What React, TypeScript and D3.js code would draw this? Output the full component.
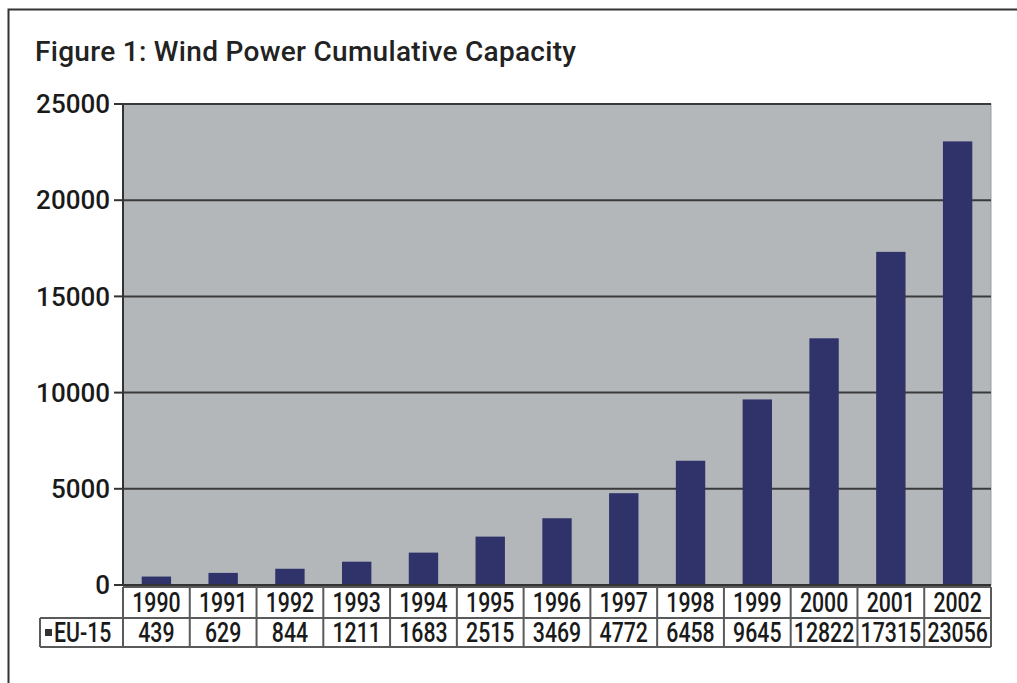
import React from "react";
import * as d3 from "d3";

const WIDTH = 1017;
const HEIGHT = 683;
const MARGIN = { top: 104, right: 26, bottom: 98, left: 123 };

const years = ["1990", "1991", "1992", "1993", "1994", "1995", "1996", "1997", "1998", "1999", "2000", "2001", "2002"];
const capacity = [439, 629, 844, 1211, 1683, 2515, 3469, 4772, 6458, 9645, 12822, 17315, 23056];
const yTicks = [0, 5000, 10000, 15000, 20000, 25000];
const seriesName = "EU-15";
const title = "Figure 1: Wind Power Cumulative Capacity";

const ROW_H = 30;
const FONT = "Roboto, 'DejaVu Sans', sans-serif";
const SQUEEZE = 0.76;

// narrow text by squeezing horizontally, keeps the tall condensed look of the original
const NarrowText = ({ x, y, anchor, children }: { x: number; y: number; anchor: string; children: React.ReactNode }) => (
  <text
    transform={`translate(${x},${y}) scale(${SQUEEZE},1)`}
    textAnchor={anchor}
    fontFamily={FONT}
    fontWeight={500}
    fontSize={28}
    fill="#1a1a1a"
  >
    {children}
  </text>
);

export default function App() {
  const boundsWidth = WIDTH - MARGIN.left - MARGIN.right;
  const boundsHeight = HEIGHT - MARGIN.top - MARGIN.bottom;

  const xScale = d3.scaleBand<string>().domain(years).range([0, boundsWidth]).paddingInner(0).paddingOuter(0);
  const yScale = d3.scaleLinear().domain([0, 25000]).range([boundsHeight, 0]);
  const barW = xScale.bandwidth() * 0.44;

  const row1Top = boundsHeight + 2;
  const row2Top = row1Top + ROW_H + 1;
  const row2Bottom = row2Top + ROW_H - 1;

  return (
    <svg width={WIDTH} height={HEIGHT} style={{ position: "absolute", left: 0, top: 0 }}>
      <rect x={0} y={0} width={WIDTH} height={HEIGHT} fill="#ffffff" />
      {/* frame */}
      <path d={`M8.5,${HEIGHT} V9.5 H${WIDTH}`} fill="none" stroke="#333" strokeWidth={2} />
      <text
        x={35}
        y={61}
        fontFamily={FONT}
        fontWeight={500}
        fontSize={28}
        letterSpacing={0.3}
        fill="#222"
      >
        {title}
      </text>
      <g transform={`translate(${MARGIN.left},${MARGIN.top})`}>
        <rect x={0} y={0} width={boundsWidth} height={boundsHeight} fill="#b4b7ba" stroke="#9a9da0" strokeWidth={1} />
        {yTicks.map((t) => (
          <g key={t}>
            {t > 0 && (
              <line x1={0} x2={boundsWidth} y1={yScale(t)} y2={yScale(t)} stroke="#3a3a3a" strokeWidth={2} />
            )}
            <line x1={-9} x2={0} y1={yScale(t)} y2={yScale(t)} stroke="#333" strokeWidth={2} />
            <text
              x={-13}
              y={yScale(t)}
              dy="0.35em"
              textAnchor="end"
              fontFamily={FONT}
              fontWeight={500}
              fontSize={26}
              fill="#1a1a1a"
            >
              {t}
            </text>
          </g>
        ))}
        {years.map((yr, i) => (
          <rect
            key={yr}
            x={(xScale(yr) as number) + (xScale.bandwidth() - barW) / 2}
            y={yScale(capacity[i])}
            width={barW}
            height={boundsHeight - yScale(capacity[i])}
            fill="#30336a"
          />
        ))}
        <line x1={0} x2={0} y1={0} y2={boundsHeight} stroke="#333" strokeWidth={2} />
        <line x1={0} x2={boundsWidth} y1={boundsHeight} y2={boundsHeight} stroke="#333" strokeWidth={2} />

        {/* data table */}
        <rect x={0} y={row1Top} width={boundsWidth} height={row2Bottom - row1Top} fill="#fff" />
        <rect x={-83} y={row2Top} width={83} height={row2Bottom - row2Top} fill="#fff" />
        <g stroke="#5a5a5a" strokeWidth={2}>
          <line x1={0} x2={boundsWidth} y1={row1Top} y2={row1Top} />
          <line x1={-83} x2={boundsWidth} y1={row2Top} y2={row2Top} />
          <line x1={-83} x2={boundsWidth} y1={row2Bottom} y2={row2Bottom} />
          <line x1={-83} x2={-83} y1={row2Top} y2={row2Bottom} />
          {years.map((yr) => (
            <line key={yr} x1={xScale(yr) as number} x2={xScale(yr) as number} y1={row1Top} y2={row2Bottom} />
          ))}
          <line x1={boundsWidth} x2={boundsWidth} y1={row1Top} y2={row2Bottom} />
        </g>
        <rect x={-78} y={row2Top + 11} width={7} height={7} fill="#333" />
        <NarrowText x={-69} y={row2Bottom - 5} anchor="start">
          {seriesName}
        </NarrowText>
        {years.map((yr, i) => (
          <g key={yr}>
            <NarrowText x={(xScale(yr) as number) + xScale.bandwidth() / 2} y={row2Top - 6} anchor="middle">
              {yr}
            </NarrowText>
            <NarrowText x={(xScale(yr) as number) + xScale.bandwidth() / 2} y={row2Bottom - 5} anchor="middle">
              {capacity[i]}
            </NarrowText>
          </g>
        ))}
      </g>
    </svg>
  );
}
